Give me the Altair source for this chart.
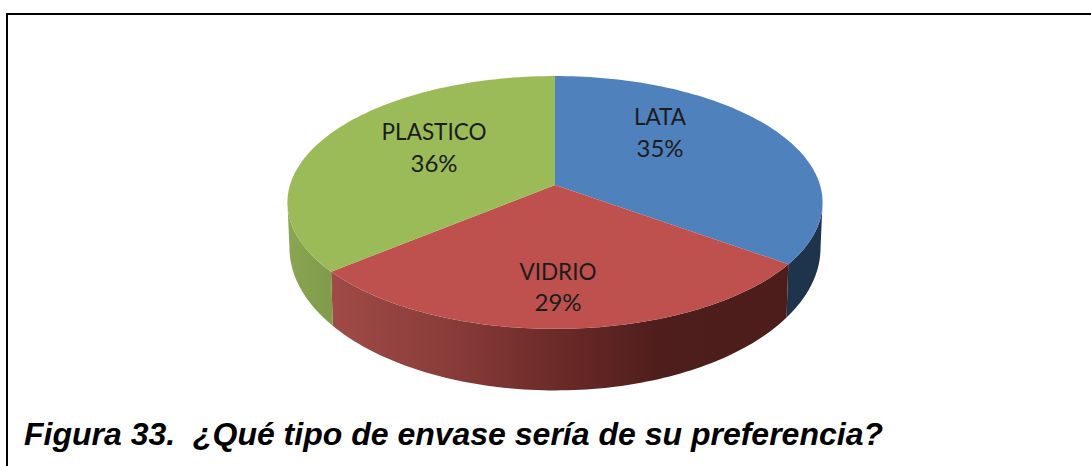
import numpy as np
import pandas as pd
import altair as alt

# Survey shares, clockwise from twelve o'clock
categories = ["LATA", "VIDRIO", "PLASTICO"]
shares = [35, 29, 36]
caption = "Figura 33.\u00a0\u00a0¿Qué tipo de envase sería de su preferencia?"

W, H = 1091, 466
TOP_COLORS = {"LATA": "#4f81bd", "VIDRIO": "#be504d", "PLASTICO": "#9bbb59"}

# Perspective model of the disc: (half width, y scale, apex y) per rim
CX, K = 555.0, 0.138
TOP_RIM = (265.0, 124.0, 185.0)
BOTTOM_RIM = (263.0, 140.0, 228.0)
# Clockwise angle at which the rim meets the silhouette
SIDE = np.degrees(np.arcsin(K))


def rim(deg, params):
    a, b, c = params
    t = np.radians(deg)
    px, py = np.sin(t), -np.cos(t)
    w = 1 - K * py
    return CX + a * px / w, c + b * py / w


def polygon(xs, ys):
    return pd.DataFrame({"x": xs, "y": ys, "i": np.arange(len(xs))})


def sector(start, end):
    deg = np.linspace(start, end, 90)
    xs, ys = rim(deg, TOP_RIM)
    apex_y = TOP_RIM[2]
    return polygon(np.r_[CX, xs], np.r_[apex_y, ys])


def wall(start, end):
    deg = np.linspace(start, end, 90)
    x1, y1 = rim(deg, TOP_RIM)
    x2, y2 = rim(deg[::-1], BOTTOM_RIM)
    return polygon(np.r_[x1, x2], np.r_[y1, y2])


x_enc = alt.X("x:Q", scale=alt.Scale(domain=[0, W], nice=False, zero=False), axis=None)
y_enc = alt.Y("y:Q", scale=alt.Scale(domain=[H, 0], nice=False, zero=False), axis=None)


def filled(df, fill):
    return (
        alt.Chart(df)
        .mark_line(filled=True, fill=fill, strokeWidth=0, interpolate="linear")
        .encode(x=x_enc, y=y_enc, order=alt.Order("i:Q"))
    )


def h_gradient(stops):
    return alt.Gradient(
        gradient="linear", x1=0, x2=1, y1=0, y2=0,
        stops=[alt.GradientStop(offset=o, color=c) for o, c in stops],
    )


edges = np.cumsum([0] + shares) * 3.6
a_lata = edges[1]
a_vidrio = edges[2]

layers = [
    filled(wall(90 + SIDE, a_lata), "#1d344c"),
    filled(wall(a_lata, a_vidrio), h_gradient([
        (0.0, "#a04a47"), (0.25, "#8a3d3a"), (0.5, "#6b2a28"),
        (0.72, "#4e1e1c"), (1.0, "#4c1d1b"),
    ])),
    filled(wall(a_vidrio, 270 - SIDE), h_gradient([(0.0, "#8aa652"), (1.0, "#7f9b4b")])),
]
for name, start, end in zip(categories, edges[:-1], edges[1:]):
    layers.append(filled(sector(start, end), TOP_COLORS[name]))

# Slice labels, two lines each
label_x = [660, 558, 434]
label_name_y = [118, 273, 133]
label_share_y = [150, 304, 165]
names = pd.DataFrame({"text": categories, "x": label_x, "y": label_name_y})
percents = pd.DataFrame({"text": [f"{s}%" for s in shares], "x": label_x, "y": label_share_y})
for table, size in ((names, 22.5), (percents, 24)):
    layers.append(
        alt.Chart(table)
        .mark_text(font="Lato", fontSize=size, color="#1c1c1c", align="center", baseline="middle")
        .encode(x=x_enc, y=y_enc, text="text:N")
    )

# Caption beneath the pie
layers.append(
    alt.Chart(pd.DataFrame({"text": [caption], "x": [24], "y": [445]}))
    .mark_text(font="Liberation Sans", fontSize=32, fontWeight="bold", fontStyle="italic",
               color="#000000", align="left", baseline="alphabetic")
    .encode(x=x_enc, y=y_enc, text="text:N")
)

# Frame: top and left edges only
layers.append(
    alt.Chart(pd.DataFrame({"x": [6], "x2": [W], "y": [14], "y2": [14]}))
    .mark_rule(color="#000000", strokeWidth=2)
    .encode(x=x_enc, x2="x2:Q", y=y_enc)
)
layers.append(
    alt.Chart(pd.DataFrame({"x": [7], "y": [13], "y2": [H]}))
    .mark_rule(color="#000000", strokeWidth=2)
    .encode(x=x_enc, y=y_enc, y2="y2:Q")
)

chart = (
    alt.layer(*layers)
    .properties(
        width=W, height=H, padding=0, background="#ffffff",
        autosize=alt.AutoSizeParams(type="none"),
    )
    .configure_view(stroke=None)
)

chart.save("out.html", embed_options={"renderer": "svg", "actions": False})
